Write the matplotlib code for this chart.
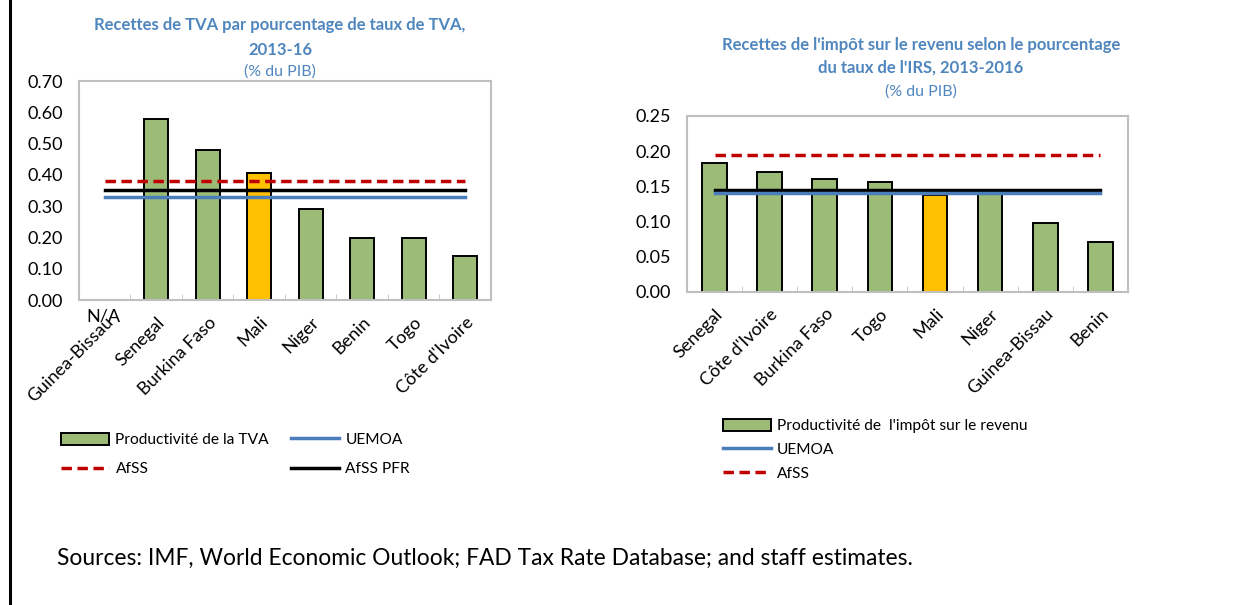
import matplotlib
matplotlib.use("Agg")
import matplotlib.pyplot as plt
from matplotlib.lines import Line2D
from matplotlib.patches import Patch

plt.rcParams['font.family'] = ['Lato', 'DejaVu Sans']

# left chart: VAT productivity
vat_countries = ["Guinea-Bissau", "Senegal", "Burkina Faso", "Mali", "Niger", "Benin", "Togo", "Côte d'Ivoire"]
vat_values = [0.0, 0.58, 0.48, 0.405, 0.29, 0.20, 0.20, 0.14]
vat_uemoa = 0.33
vat_afss = 0.38
vat_afss_pfr = 0.352

# right chart: income tax productivity
irs_countries = ["Senegal", "Côte d'Ivoire", "Burkina Faso", "Togo", "Mali", "Niger", "Guinea-Bissau", "Benin"]
irs_values = [0.183, 0.171, 0.161, 0.156, 0.138, 0.139, 0.098, 0.071]
irs_uemoa = 0.141
irs_afss = 0.194
irs_black = 0.145

GREEN = '#9BBB77'
ORANGE = '#FFC000'
BLUE = '#4A7EBB'
RED = '#C00000'
TITLE = '#4F86BE'

fig = plt.figure(figsize=(12.38, 6.05), dpi=100)


def style_axis(ax, names, ymax, step):
    n = len(names)
    ax.set_xlim(-0.5, n - 0.5)
    ax.set_ylim(0, ymax)
    ticks = [round(i * step, 2) for i in range(int(round(ymax / step)) + 1)]
    ax.set_yticks(ticks)
    ax.set_yticklabels([f"{t:.2f}" for t in ticks])
    ax.set_xticks(range(n))
    ax.set_xticklabels(names, rotation=45, ha='right', rotation_mode='anchor')
    ax.set_xticks([i + 0.5 for i in range(n - 1)], minor=True)
    ax.tick_params(axis='y', length=0, pad=11.5, labelsize=13, colors='black')
    ax.tick_params(axis='x', which='major', length=0, pad=10, labelsize=13)
    ax.tick_params(axis='x', which='minor', direction='in', length=4, color='#BFBFBF')
    for s in ax.spines.values():
        s.set_color('#BFBFBF')
        s.set_linewidth(1.5)


# ---- left chart
ax1 = fig.add_axes([0.0638, 0.504, 0.3328, 0.362])
colors1 = [ORANGE if c == "Mali" else GREEN for c in vat_countries]
x1 = list(range(len(vat_countries)))
ax1.bar(x1[1:], vat_values[1:], width=0.47, color=colors1[1:], edgecolor='black', linewidth=1.4, zorder=2)
ax1.plot([x1[0], x1[-1]], [vat_afss, vat_afss], color=RED, lw=2.5, ls=(0, (3, 1.6)), zorder=3)
ax1.plot([x1[0], x1[-1]], [vat_afss_pfr, vat_afss_pfr], color='black', lw=2.5, zorder=3)
ax1.plot([x1[0], x1[-1]], [vat_uemoa, vat_uemoa], color=BLUE, lw=2.5, zorder=3)
style_axis(ax1, vat_countries, 0.70, 0.10)
ax1.annotate("N/A", xy=(0, 0), xycoords=('data', 'axes fraction'), xytext=(-1, -12),
             textcoords='offset points', ha='center', va='center', fontsize=13)

fig.text(0.2262, 1 - 25 / 605, "Recettes de TVA par pourcentage de taux de TVA,", ha='center', va='center',
         fontsize=12, fontweight='bold', color=TITLE)
fig.text(0.2262, 1 - 50 / 605, "2013-16", ha='center', va='center', fontsize=12, fontweight='bold', color=TITLE)
fig.text(0.2262, 1 - 72 / 605, "(% du PIB)", ha='center', va='center', fontsize=11.5, color=TITLE)

h_bar = Patch(facecolor=GREEN, edgecolor='black', linewidth=1.4)
h_uem = Line2D([], [], color=BLUE, lw=2.5)
h_afss = Line2D([], [], color=RED, lw=2.5, ls=(0, (3, 1.6)))
h_pfr = Line2D([], [], color='black', lw=2.5)
fig.legend([h_bar, h_afss, h_uem, h_pfr], ["Productivité de la TVA", "AfSS", "UEMOA", "AfSS PFR"],
           ncol=2, loc='upper left', bbox_to_anchor=(0.043, 1 - 425 / 605), frameon=False, fontsize=11.2,
           handlelength=3.1, handleheight=0.8, handletextpad=0.4, columnspacing=1.4, labelspacing=0.95,
           borderpad=0)

# ---- right chart
ax2 = fig.add_axes([0.555, 0.5174, 0.356, 0.291])
colors2 = [ORANGE if c == "Mali" else GREEN for c in irs_countries]
x2 = list(range(len(irs_countries)))
ax2.bar(x2, irs_values, width=0.45, color=colors2, edgecolor='black', linewidth=1.4, zorder=2)
ax2.plot([x2[0], x2[-1]], [irs_afss, irs_afss], color=RED, lw=2.5, ls=(0, (3, 1.6)), zorder=3)
ax2.plot([x2[0], x2[-1]], [irs_black, irs_black], color='black', lw=2.5, zorder=3)
ax2.plot([x2[0], x2[-1]], [irs_uemoa, irs_uemoa], color=BLUE, lw=2.5, zorder=3)
style_axis(ax2, irs_countries, 0.25, 0.05)

fig.text(0.744, 1 - 45 / 605, "Recettes de l'impôt sur le revenu selon le pourcentage", ha='center', va='center',
         fontsize=12, fontweight='bold', color=TITLE)
fig.text(0.744, 1 - 68 / 605, "du taux de l'IRS, 2013-2016", ha='center', va='center',
         fontsize=12, fontweight='bold', color=TITLE)
fig.text(0.744, 1 - 92 / 605, "(% du PIB)", ha='center', va='center', fontsize=11.5, color=TITLE)

fig.legend([h_bar, h_uem, h_afss], ["Productivité de  l'impôt sur le revenu", "UEMOA", "AfSS"],
           loc='upper left', bbox_to_anchor=(0.5775, 1 - 411 / 605), frameon=False, fontsize=11.2,
           handlelength=3.1, handleheight=0.8, handletextpad=0.4, labelspacing=0.6, borderpad=0)

fig.text(57 / 1238, 1 - 558 / 605, "Sources: IMF, World Economic Outlook; FAD Tax Rate Database; and staff estimates.",
         ha='left', va='center', fontsize=16.4)

fig.add_artist(Line2D([9.5 / 1238, 9.5 / 1238], [0, 1], transform=fig.transFigure, color='black', lw=2.2))

fig.savefig("out.png", dpi=100)
